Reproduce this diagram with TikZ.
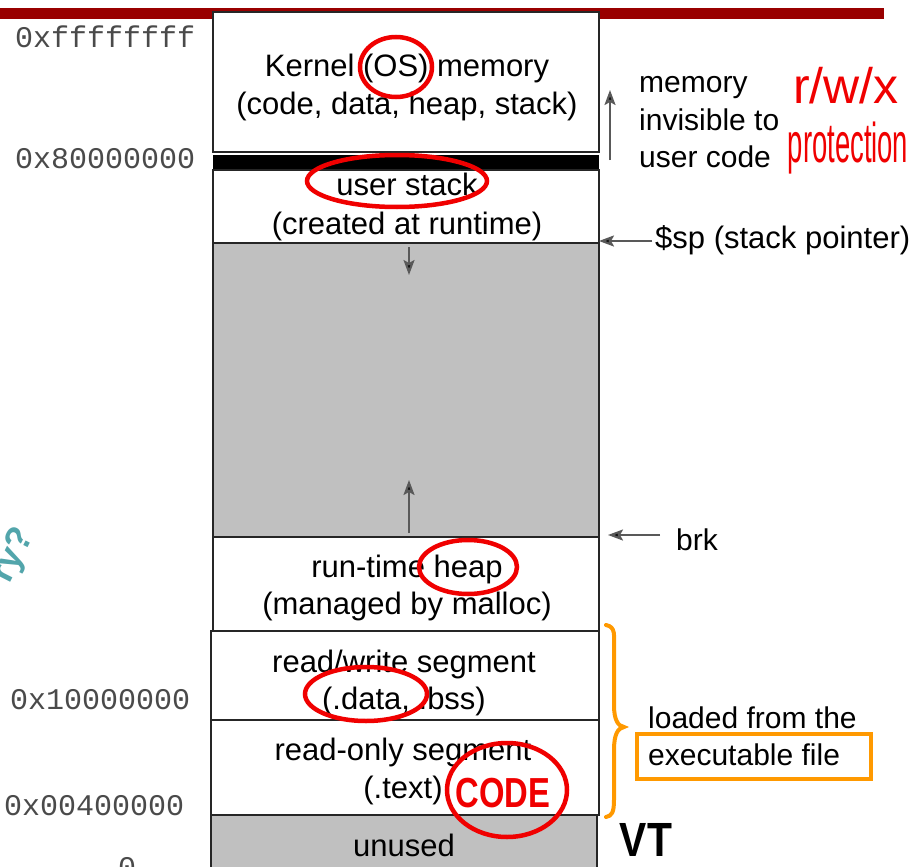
\documentclass[tikz,border=0pt]{standalone}
\usepackage{fontspec}
\setmainfont{Liberation Sans}
\newfontfamily\hexfont{Liberation Mono}
\usetikzlibrary{arrows.meta,shapes.geometric}
\definecolor{slidered}{HTML}{990000}
\definecolor{seggray}{HTML}{C0C0C0}
\definecolor{inkred}{HTML}{F00000}
\definecolor{inkorange}{HTML}{FF9900}
\definecolor{inkteal}{HTML}{52A5AB}
\definecolor{hexgray}{HTML}{4A4A4A}

\begin{document}
\begin{tikzpicture}[x=1pt,y=-1pt,
  seg/.style={draw=black!85, line width=1.8pt},
  txt/.style={anchor=base, inner sep=0pt, font=\fontsize{31}{37}\selectfont},
  hex/.style={anchor=base west, inner sep=0pt, text=hexgray, font=\hexfont\fontsize{30}{36}\selectfont},
  side/.style={anchor=base west, inner sep=0pt, font=\fontsize{30}{36}\selectfont},
  ptr/.style={line width=2.2pt, draw=black!65, -{Stealth[length=15pt,width=11pt,inset=3pt,fill=black]}},
  ink/.style={draw=inkred, line width=4.5pt},
  ]
\useasboundingbox (0,0) rectangle (914,867);
\clip (0,0) rectangle (914,867);
\fill[white] (0,0) rectangle (914,867);

% title rule
\fill[slidered] (0,8) rectangle (884,19);

% address-space segments, top to bottom
\draw[seg, fill=white] (213,12) rectangle (599,152);
\fill[black] (213,155) rectangle (599,170);
\draw[seg, fill=white] (213,170) rectangle (599,243);
\draw[seg, fill=seggray] (213,243) rectangle (599,537);
\draw[seg, fill=white] (213,537) rectangle (599,631);
\draw[seg, fill=white] (211,631) rectangle (599,720);
\draw[seg, fill=white] (211,720) rectangle (599,815);
\draw[seg, fill=seggray] (211,815) rectangle (597,890);

% segment labels
\node[txt] (kern1) at (407,77) {Kernel (OS) memory};
\node[txt] (kern2) at (407,114) {(code, data, heap, stack)};
\node[txt] (stk1) at (407,195) {user stack};
\node[txt] (stk2) at (407,234) {(created at runtime)};
\node[txt] (heap1) at (407,577) {run-time heap};
\node[txt] (heap2) at (407,614) {(managed by malloc)};
\node[txt] (rw1) at (404,672) {read/write segment};
\node[txt] (rw2) at (404,709) {(.data, .bss)};
\node[txt] (ro1) at (403,760) {read-only segment};
\node[txt] (ro2) at (403,798) {(.text)};
\node[txt] (unused) at (404,856) {unused};

% addresses
\node[hex] (aTop) at (15,48) {0xffffffff};
\node[hex] (aKern) at (15,168) {0x80000000};
\node[hex] (aData) at (10,709) {0x10000000};
\node[hex] (aText) at (4,815) {0x00400000};
\node[hex] (aZero) at (118,877) {0};

% growth arrows inside the free region
\coordinate (stkFrom) at (409,247);
\coordinate (stkTo) at (409,275);
\coordinate (heapFrom) at (409,533);
\coordinate (heapTo) at (409,480);
\draw[ptr] (stkFrom) -- (stkTo);
\draw[ptr] (heapFrom) -- (heapTo);

% right-hand notes
\coordinate (kUpFrom) at (610,160);
\coordinate (kUpTo) at (610,90);
\draw[ptr] (kUpFrom) -- (kUpTo);
\node[side] (inv1) at (639,93) {memory};
\node[side] (inv2) at (639,130) {invisible to};
\node[side] (inv3) at (639,167) {user code};

\coordinate (spEdge) at (599,241);
\node[side, font=\fontsize{31}{36}\selectfont] (sp) at (655,248) {\$sp (stack pointer)};
\draw[ptr] (sp.west |- spEdge) ++(-3,0) -- (spEdge);

\coordinate (brkEdge) at (608,535);
\node[side] (brk) at (676,550) {brk};
\draw[ptr] (brk.west |- brkEdge) ++(-16,0) -- (brkEdge);

% loaded-from-file brace and note
\draw[inkorange, line width=4pt, line cap=round]
  (606,625) .. controls (616,627) and (614,635) .. (614,650) -- (614,705)
  .. controls (614,720) and (618,726) .. (624,727)
  .. controls (618,728) and (614,734) .. (614,750) -- (614,800)
  .. controls (614,812) and (612,816) .. (606,817);
\node[side] (load1) at (648,728) {loaded from the};
\node[side] (load2) at (648,765) {executable file};
\draw[inkorange, line width=4pt] (637,734) rectangle (871,779);

% red ink marks
\draw[ink] (396,67) ellipse [x radius=36, y radius=30];
\draw[ink] (397,181) ellipse [x radius=90, y radius=26];
\draw[ink] (468,567) ellipse [x radius=49, y radius=27];
\draw[ink] (366,694) ellipse [x radius=61, y radius=27];
\draw[ink] (507,790) ellipse [x radius=60, y radius=47];
\node[text=inkred, font=\bfseries\fontsize{42}{42}\selectfont, xscale=0.78] (code) at (503,793) {CODE};
\node[text=inkred, font=\fontsize{50}{50}\selectfont] (rwx) at (846,86) {r/w/x};
\node[text=inkred, font=\fontsize{56}{56}\selectfont, xscale=0.49] (prot) at (848,148) {protection};

% other ink
\node[font=\bfseries\fontsize{48}{48}\selectfont, xscale=0.85] (vt) at (646,840) {VT};
\node[text=inkteal, font=\bfseries\fontsize{36}{36}\selectfont, rotate=63] (ry) at (14,556) {ry?};
\end{tikzpicture}
\end{document}
